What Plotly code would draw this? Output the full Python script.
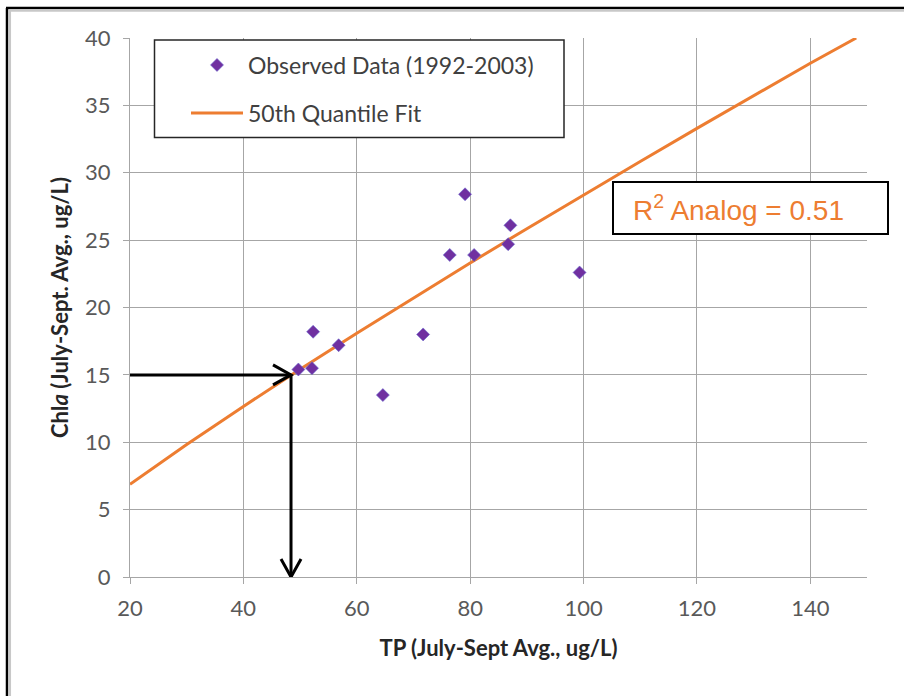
import plotly.graph_objects as go

# ---- data ----
tp_obs = [49.7, 52.1, 52.3, 56.8, 64.6, 71.7, 76.4, 79.1, 80.7, 86.7, 87.1, 99.3]
chla_obs = [15.4, 15.5, 18.2, 17.2, 13.5, 18.0, 23.9, 28.4, 23.9, 24.7, 26.1, 22.6]

fit_tp = [20, 30, 40, 50, 60, 70, 80, 90, 100, 110, 120, 130, 140, 148.1]
fit_chla = [6.88, 9.83, 12.66, 15.41, 18.09, 20.72, 23.30, 25.85, 28.36, 30.84, 33.29, 35.73, 38.13, 40.0]

read_chla = 15.0      # target Chl a
read_tp = 48.4        # TP read from the fit

x_ticks = [20, 40, 60, 80, 100, 120, 140]
y_ticks = [0, 5, 10, 15, 20, 25, 30, 35, 40]

name_obs = "Observed Data (1992-2003)"
name_fit = "50th Quantile Fit"
r2_text = "R<sup>2</sup> Analog = 0.51"

# ---- layout geometry (pixels) ----
W, H = 904, 696
L, R, T, B = 130, 867, 38, 577
X_RANGE = [20, 150]
Y_RANGE = [0, 40]


def px_x(p):
    return (p - L) / (R - L)


def px_y(p):
    return (B - p) / (B - T)


# pixel -> data unit conversion for arrowhead sizes
ux = (X_RANGE[1] - X_RANGE[0]) / (R - L)
uy = (Y_RANGE[1] - Y_RANGE[0]) / (B - T)
HEAD_LEN, HEAD_HALF = 18, 10

FONT = "Lato"
GRID = "#a6a6a6"

fig = go.Figure()
fig.add_trace(go.Scatter(
    x=fit_tp, y=fit_chla, mode="lines", name=name_fit,
    line=dict(color="#ED7D31", width=3), legend="legend2",
))
fig.add_trace(go.Scatter(
    x=tp_obs, y=chla_obs, mode="markers", name=name_obs,
    marker=dict(symbol="diamond", size=10, color="#7030A0",
                line=dict(width=0.6, color="#6a6ad0")),
    legend="legend",
))

arrow_line = dict(color="black", width=3)
h_head = "M {},{} L {},{} L {},{}".format(
    read_tp - HEAD_LEN * ux, read_chla + HEAD_HALF * uy,
    read_tp, read_chla,
    read_tp - HEAD_LEN * ux, read_chla - HEAD_HALF * uy)
v_head = "M {},{} L {},{} L {},{}".format(
    read_tp - HEAD_HALF * ux, Y_RANGE[0] + HEAD_LEN * uy,
    read_tp, Y_RANGE[0],
    read_tp + HEAD_HALF * ux, Y_RANGE[0] + HEAD_LEN * uy)

shapes = [
    # outer frame (black + grey shadow line)
    dict(type="line", xref="paper", yref="paper", x0=px_x(7), x1=px_x(7),
         y0=px_y(700), y1=px_y(8), line=dict(color="black", width=2.5)),
    dict(type="line", xref="paper", yref="paper", x0=px_x(6), x1=px_x(910),
         y0=px_y(8), y1=px_y(8), line=dict(color="black", width=2.5)),
    dict(type="line", xref="paper", yref="paper", x0=px_x(9.8), x1=px_x(9.8),
         y0=px_y(700), y1=px_y(10.5), line=dict(color="#c8c8c8", width=2.5)),
    dict(type="line", xref="paper", yref="paper", x0=px_x(8.5), x1=px_x(910),
         y0=px_y(10.5), y1=px_y(10.5), line=dict(color="#c8c8c8", width=2.5)),
    # legend box
    dict(type="rect", xref="paper", yref="paper", x0=px_x(154.5), x1=px_x(564),
         y0=px_y(137.5), y1=px_y(40), line=dict(color="#262626", width=1.5),
         fillcolor="white", layer="above"),
    # R2 box
    dict(type="rect", xref="paper", yref="paper", x0=px_x(613), x1=px_x(888),
         y0=px_y(234), y1=px_y(182), line=dict(color="black", width=2),
         fillcolor="white", layer="above"),
    # reading arrows
    dict(type="line", xref="x", yref="y", x0=X_RANGE[0], x1=read_tp,
         y0=read_chla, y1=read_chla, line=arrow_line, layer="above"),
    dict(type="path", xref="x", yref="y", path=h_head, line=arrow_line, layer="above"),
    dict(type="line", xref="x", yref="y", x0=read_tp, x1=read_tp,
         y0=read_chla, y1=Y_RANGE[0], line=arrow_line, layer="above"),
    dict(type="path", xref="x", yref="y", path=v_head, line=arrow_line, layer="above"),
]

annotations = [
    dict(xref="paper", yref="paper", x=px_x(631), y=px_y(208), xanchor="left",
         yanchor="middle", text=r2_text, showarrow=False,
         font=dict(family="Liberation Sans", size=28, color="#ED7D31")),
]

axis_common = dict(
    showgrid=True, gridcolor=GRID, gridwidth=1,
    showline=True, linecolor=GRID, linewidth=1,
    ticks="outside", ticklen=6, tickcolor=GRID,
    tickfont=dict(family=FONT, size=22, color="#595959"),
    zeroline=False, automargin=False,
)

fig.update_layout(
    width=W, height=H, autosize=False,
    margin=dict(l=L, r=W - R, t=T, b=H - B, pad=0),
    paper_bgcolor="white", plot_bgcolor="white",
    xaxis=dict(range=X_RANGE, tickvals=x_ticks,
               title=dict(text="<b>TP (July-Sept Avg., ug/L)</b>", standoff=20,
                          font=dict(family=FONT, size=22, color="#262626")),
               **axis_common),
    yaxis=dict(range=Y_RANGE, tickvals=y_ticks,
               title=dict(text="<b>Chl<i>a</i> (July-Sept. Avg., ug/L)</b>", standoff=10,
                          font=dict(family=FONT, size=22, color="#262626")),
               **axis_common),
    legend=dict(x=px_x(186), y=px_y(65), xref="paper", yref="paper",
                xanchor="left", yanchor="middle", bgcolor="rgba(0,0,0,0)",
                borderwidth=0, itemwidth=52,
                font=dict(family=FONT, size=23, color="#404040")),
    legend2=dict(x=px_x(186), y=px_y(113), xref="paper", yref="paper",
                 xanchor="left", yanchor="middle", bgcolor="rgba(0,0,0,0)",
                 borderwidth=0, itemwidth=52,
                 font=dict(family=FONT, size=23, color="#404040")),
    shapes=shapes,
    annotations=annotations,
    showlegend=True,
)
fig.update_yaxes(ticklabelstandoff=8)
fig.update_xaxes(ticklabelstandoff=6)

fig.write_html("out.html")
